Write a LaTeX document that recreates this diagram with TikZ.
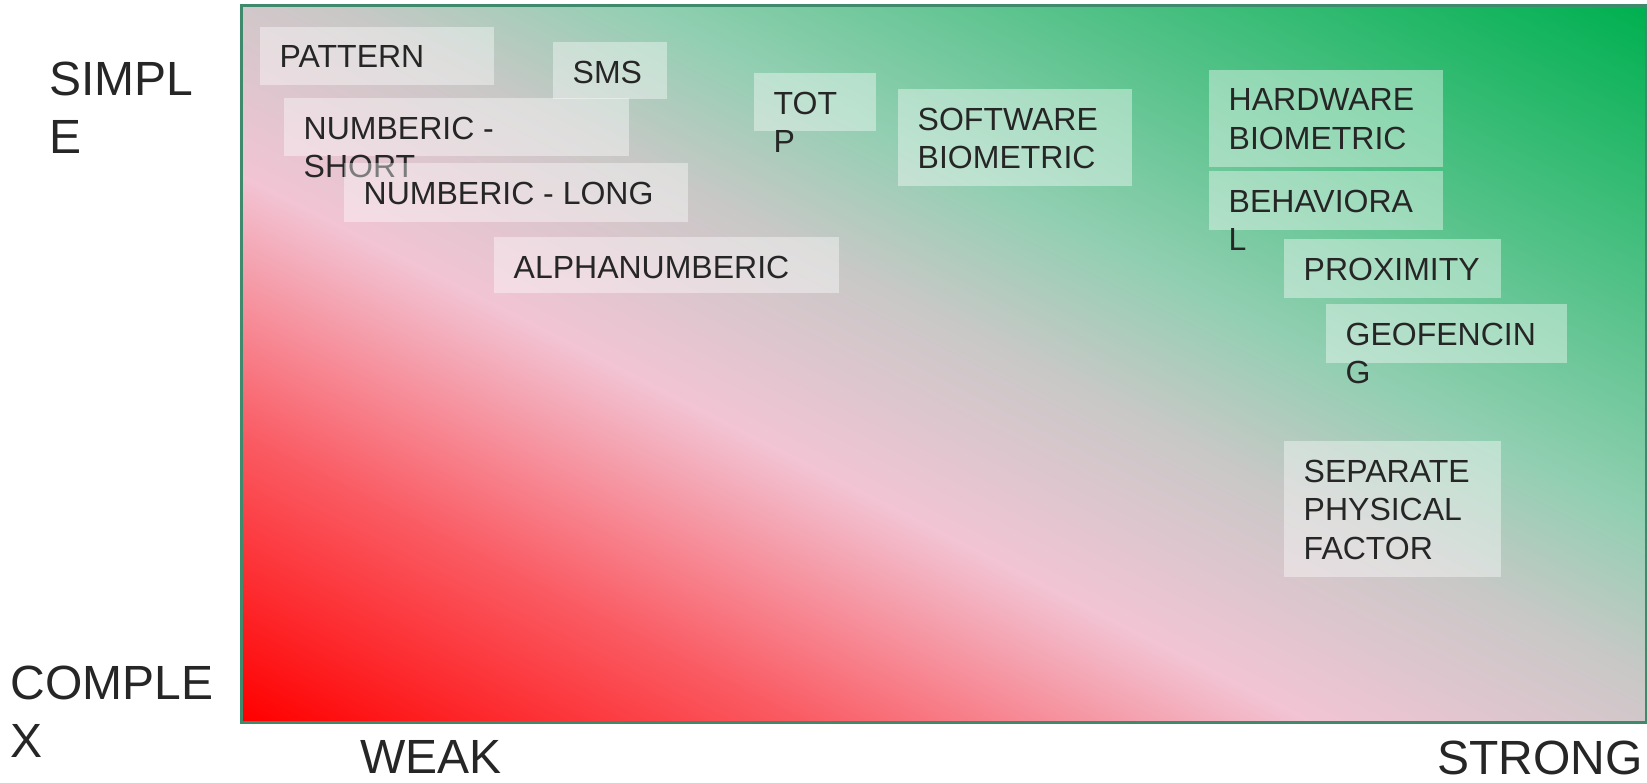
\documentclass[tikz,border=0pt]{standalone}
\usepackage{fontspec}
\setmainfont{Liberation Sans}
\usepackage{tikz}
\usepackage{xcolor}
\usetikzlibrary{positioning,calc}
\definecolor{ink}{HTML}{262626}
\definecolor{frame}{HTML}{3F8A6C}
\definecolor{weakred}{HTML}{FF0000}
\definecolor{salmon}{HTML}{FA5C64}
\definecolor{midpink}{HTML}{F2C4D4}
\definecolor{midgray}{HTML}{C9C8C7}
\definecolor{palegreen}{HTML}{92CFB2}
\definecolor{stronggreen}{HTML}{00B050}
\pgfdeclarehorizontalshading{weakstrong}{100bp}{color(0bp)=(weakred); color(14.64bp)=(weakred);
  color(28.78bp)=(salmon); color(41.51bp)=(midpink); color(52.12bp)=(midgray); color(59.9bp)=(palegreen);
  color(85.36bp)=(stronggreen); color(100bp)=(stronggreen)}
\tikzset{
  plane/.style={draw=frame,line width=2.5pt,anchor=north west,inner sep=0pt},
  factorbox/.style={fill=white,fill opacity=0.4,draw=none,anchor=north west,inner sep=0pt},
  factortext/.style={anchor=north west,inner sep=0pt,align=left,text=ink,
                     font=\fontsize{32}{38.5}\selectfont},
  axislabel/.style={anchor=north west,inner sep=0pt,align=left,text=ink,
                    font=\fontsize{48}{58}\selectfont}
}

\begin{document}
\begin{tikzpicture}[x=1pt,y=-1pt]
      \useasboundingbox (0,0) rectangle (1647,782);
      % the weak-to-strong plane: a square shaded at 45 deg, stretched to the frame
      \begin{scope}[transform canvas={shift={(240,4)},xscale=14.05,yscale=7.17}]
        \shade[shading=weakstrong,shading angle=45] (0,0) rectangle (100,100);
      \end{scope}
      \node[plane,minimum width=1405,minimum height=717] (field) at (240,4) {};
      % axis ends
      \node[axislabel] (simple) at (49,62) {SIMPL\\E};
      \node[axislabel] (complex) at (10.5,666) {COMPLE\\X};
      \node[axislabel] (weak) at (360,740.5) {WEAK};
      \node[axislabel] (strong) at (1437,740.5) {STRONG};
      % factor cards, drawn in order so later cards sit on top
      \foreach \nm/\x/\y/\w/\h/\lbl in {
          pattern/260/27/234/58/{PATTERN},
          sms/553/42/114/57/{SMS},
          totp/754/73/122/58/{TOT\\P},
          numshort/284/98/345/58/{NUMBERIC -\\SHORT},
          numlong/344/163/344/59/{NUMBERIC - LONG},
          alpha/494/237/345/56/{ALPHANUMBERIC},
          software/898/89/234/97/{SOFTWARE\\BIOMETRIC},
          hardware/1209/70/234/97/{HARDWARE\\BIOMETRIC},
          behavioral/1209/171/234/59/{BEHAVIORA\\L},
          proximity/1284/239/217/59/{PROXIMITY},
          geofencing/1326/304/241/59/{GEOFENCIN\\G},
          separate/1284/441/217/136/{SEPARATE\\PHYSICAL\\FACTOR}} {
        \node[factorbox,minimum width=\w,minimum height=\h] (\nm) at (\x,\y) {};
        \node[factortext] (\nm-txt) at ([shift={(19.5,18.5)}]\nm.north west) {\lbl};
      }
    \end{tikzpicture}
\end{document}
